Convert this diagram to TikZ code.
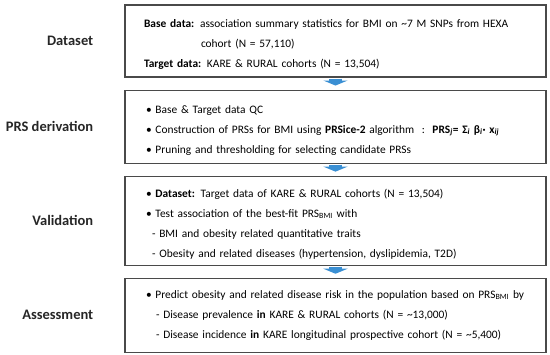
\documentclass[tikz,border=0pt]{standalone}
\usepackage{fontspec}
\setmainfont{Carlito}
\usetikzlibrary{arrows.meta,positioning,shadows}
\definecolor{boxline}{HTML}{4A4A4A}
\definecolor{flowblue}{HTML}{3A8FD3}
\newcommand{\lowstrut}{\rule{0pt}{15pt}}
\tikzset{
  stagebox/.style={draw=boxline, line width=1.1pt, fill=white, align=left,
    text width=383pt, inner xsep=19pt, inner ysep=0pt,
    font=\fontsize{11.4}{20}\selectfont,
    drop shadow={shadow xshift=0.5pt, shadow yshift=-0.7pt, fill=black!60, opacity=0.7}},
  stagelabel/.style={font=\fontsize{14.5}{17}\selectfont\bfseries, inner sep=0pt, text=black!85},
  downarr/.style={-{Triangle[length=5pt, width=24pt]}, line width=13pt, draw=flowblue}
}

\begin{document}
\begin{tikzpicture}[node distance=12pt]
  \useasboundingbox (0,0) rectangle (550pt,355pt);
  \node[stagebox, minimum height=72pt] (data) at (335.5pt,314pt)
    {\lowstrut\makebox[360pt][s]{\textbf{Base data:} association summary statistics for BMI on \textasciitilde7 M SNPs from HEXA}\\
     \hspace*{57pt}cohort (N = 57,110)\\
     \textbf{Target data:} KARE \& RURAL cohorts (N = 13,504)};
  \node[stagebox, minimum height=73pt, below=of data] (derive)
    {\lowstrut\hspace*{2pt}\textbullet\ Base \& Target data QC\\
     \hspace*{2pt}\mbox{\textbullet\ Construction of PRSs for BMI using \textbf{PRSice-2} algorithm\ \ :\ \
       \textbf{PRS\textsubscript{\textit{j}}= Σ\textsubscript{\textit{i}} β\textsubscript{\textit{i}}· x\textsubscript{\textit{ij}}}}\\
     \hspace*{2pt}\textbullet\ Pruning and thresholding for selecting candidate PRSs};
  \node[stagebox, minimum height=89pt, below=of derive] (valid)
    {\lowstrut\hspace*{2pt}\textbullet\ \textbf{Dataset:} Target data of KARE \& RURAL cohorts (N = 13,504)\\
     \hspace*{2pt}\textbullet\ Test association of the best-fit PRS\textsubscript{BMI} with\\
     \hspace*{8pt}- BMI and obesity related quantitative traits\\
     \hspace*{8pt}- Obesity and related diseases (hypertension, dyslipidemia, T2D)};
  \node[stagebox, minimum height=74pt, below=of valid] (assess)
    {\hspace*{2pt}\mbox{\textbullet\ Predict obesity and related disease risk in the population based on PRS\textsubscript{BMI} by}\\
     \hspace*{12pt}- Disease prevalence \textbf{in} KARE \& RURAL cohorts (N = \textasciitilde13,000)\\
     \hspace*{12pt}- Disease incidence \textbf{in} KARE longitudinal prospective cohort (N = \textasciitilde5,400)};
  % stage names
  \node[stagelabel, left=31pt of data.west] (datalbl) {Dataset};
  \node[stagelabel, left=31pt of derive.west] (derivelbl) {PRS derivation};
  \node[stagelabel, left=31pt of valid.west] (validlbl) {Validation};
  \node[stagelabel, left=31pt of assess.west] (assesslbl) {Assessment};
  % block arrows
  \draw[downarr] ([yshift=-1pt]data.south) -- ([yshift=4pt]derive.north);
  \draw[downarr] ([yshift=-1pt]derive.south) -- ([yshift=4pt]valid.north);
  \draw[downarr] ([yshift=-1pt]valid.south) -- ([yshift=4pt]assess.north);
\end{tikzpicture}
\end{document}
